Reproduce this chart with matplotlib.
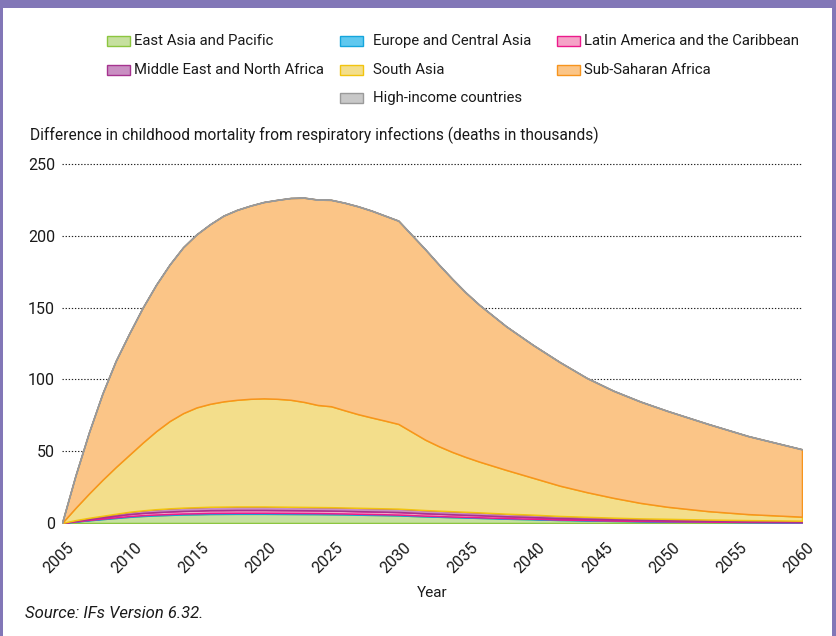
import matplotlib
matplotlib.use("Agg")
import matplotlib.pyplot as plt
import matplotlib.transforms as mtransforms
from matplotlib.patches import Rectangle
import numpy as np

plt.rcParams['font.family'] = ['Roboto', 'DejaVu Sans']

years = [2005, 2006, 2007, 2008, 2009, 2010, 2011, 2012, 2013, 2014, 2015, 2016, 2017, 2018,
         2019, 2020, 2021, 2022, 2023, 2024, 2025, 2026, 2027, 2028, 2029, 2030, 2031, 2032,
         2033, 2034, 2035, 2036, 2038, 2040, 2042, 2044, 2046, 2048, 2050, 2053, 2056, 2060]

east_asia = [0, 1.0, 1.9, 2.7, 3.5, 4.3, 4.9, 5.3, 5.65, 5.95, 6.1, 6.3, 6.35, 6.4,
             6.4, 6.4, 6.35, 6.3, 6.25, 6.2, 6.1, 6.0, 5.8, 5.65, 5.5, 5.3, 4.95, 4.6,
             4.35, 4.05, 3.8, 3.55, 3.0, 2.6, 2.1, 1.8, 1.45, 1.2, 1.0, 0.8, 0.6, 0.4]
europe = [0, 0.15, 0.25, 0.35, 0.45, 0.5, 0.55, 0.6, 0.6, 0.65, 0.65, 0.7, 0.7, 0.7,
          0.7, 0.7, 0.7, 0.7, 0.7, 0.68, 0.65, 0.63, 0.6, 0.58, 0.57, 0.55, 0.52, 0.5,
          0.48, 0.47, 0.45, 0.43, 0.4, 0.35, 0.3, 0.27, 0.24, 0.22, 0.2, 0.17, 0.15, 0.12]
latin_america = [0, 0.4, 0.7, 0.95, 1.2, 1.45, 1.6, 1.7, 1.8, 1.85, 1.9, 1.95, 1.95, 2.0,
                 2.0, 2.0, 1.97, 1.95, 1.93, 1.9, 1.9, 1.87, 1.85, 1.83, 1.82, 1.8, 1.75, 1.7,
                 1.64, 1.58, 1.5, 1.45, 1.3, 1.2, 1.05, 0.95, 0.85, 0.75, 0.7, 0.6, 0.52, 0.45]
mena = [0, 0.45, 0.75, 1.0, 1.25, 1.55, 1.75, 2.0, 2.15, 2.25, 2.35, 2.35, 2.4, 2.4,
        2.4, 2.4, 2.38, 2.35, 2.32, 2.32, 2.35, 2.3, 2.35, 2.34, 2.31, 2.35, 2.28, 2.2,
        2.13, 2.1, 2.05, 1.97, 1.8, 1.65, 1.45, 1.28, 1.16, 1.03, 1.0, 0.83, 0.73, 0.63]
south_asia = [0, 8.5, 16.9, 25.0, 32.6, 39.7, 47.2, 54.4, 60.8, 65.8, 69.5, 71.7, 73.3, 74.3,
              75.0, 75.3, 75.1, 74.5, 73.1, 71.1, 70.3, 67.7, 65.2, 63.1, 61.1, 59.0, 54.0, 49.0,
              44.9, 41.3, 38.2, 35.4, 30.5, 25.7, 21.1, 17.2, 13.8, 10.8, 8.4, 5.9, 4.2, 2.8]
sub_saharan = [0, 22.5, 42.5, 60, 74, 84.5, 94, 102, 109, 115.5, 120.5, 125, 129.3, 132.2,
               134.5, 136.7, 138.5, 140.5, 142.2, 143, 143.7, 144.5, 144.7, 144, 142.7, 141.5, 137, 132.5,
               126.5, 120.5, 114.5, 109.2, 100, 92.5, 86, 79.5, 74.5, 70.5, 66.7, 60.7, 54.3, 46.9]
high_income = [0, 0.1, 0.1, 0.1, 0.1, 0.1, 0.1, 0.1, 0.1, 0.1, 0.1, 0.1, 0.1, 0.1,
               0.1, 0.1, 0.1, 0.1, 0.1, 0.1, 0.1, 0.1, 0.1, 0.1, 0.1, 0.1, 0.1, 0.1,
               0.1, 0.1, 0.1, 0.1, 0.1, 0.1, 0.1, 0.1, 0.1, 0.1, 0.1, 0.1, 0.1, 0.1]

series_names = ["East Asia and Pacific", "Europe and Central Asia", "Latin America and the Caribbean",
                "Middle East and North Africa", "South Asia", "Sub-Saharan Africa", "High-income countries"]
series_values = [east_asia, europe, latin_america, mena, south_asia, sub_saharan, high_income]
fill_colors = ["#c6e09f", "#5fc8ef", "#f5a3c7", "#c98fc2", "#f3de8b", "#fbc587", "#c8c8c8"]
edge_colors = ["#8cc63f", "#14a5dc", "#ec1a8c", "#a6338f", "#f2c40e", "#f7941d", "#9a9a9a"]

x_ticks = list(range(2005, 2061, 5))
y_ticks = [0, 50, 100, 150, 200, 250]

W, H = 837, 636
fig = plt.figure(figsize=(W / 100, H / 100), dpi=100)

px = 359 / 250.0
ytop = 251
ax = fig.add_axes([62 / W, 1 - 523 / H, 740 / W, ytop * px / H])

yrs = np.array(years, dtype=float)
lower = np.zeros(len(years))
for name, vals, fc, ec in zip(series_names, series_values, fill_colors, edge_colors):
    upper = lower + np.array(vals, dtype=float)
    ax.fill_between(yrs, lower, upper, facecolor=fc, edgecolor=ec, linewidth=1.1, zorder=3)
    lower = upper

ax.set_xlim(2005, 2060)
ax.set_ylim(0, ytop)
ax.set_yticks(y_ticks)
ax.set_yticklabels([str(v) for v in y_ticks])
ax.set_xticks(x_ticks)
ax.set_xticklabels([str(v) for v in x_ticks])
for s in ax.spines.values():
    s.set_visible(False)
ax.yaxis.grid(True, color='#222222', linestyle=(0, (1.2, 1.6)), linewidth=0.8, zorder=1)
ax.set_axisbelow(True)
ax.tick_params(axis='both', length=0, labelsize=11.5, colors='#1a1a1a')
ax.tick_params(axis='y', pad=5)
ax.tick_params(axis='x', pad=0)

offset = mtransforms.ScaledTranslation(10 / 100, -22 / 100, fig.dpi_scale_trans)
for lab in ax.get_xticklabels():
    lab.set_rotation(45)
    lab.set_ha('right')
    lab.set_va('center')
    lab.set_rotation_mode('anchor')
    lab.set_transform(lab.get_transform() + offset)

# titles / texts
fig.text(30 / W, 1 - 135 / H, "Difference in childhood mortality from respiratory infections (deaths in thousands)",
         fontsize=11.2, color='#1a1a1a', ha='left', va='center')
fig.text(432 / W, 1 - 593 / H, "Year", fontsize=11, color='#1a1a1a', ha='center', va='center')
fig.text(25 / W, 1 - 614 / H, "Source: IFs Version 6.32.", fontsize=12, style='italic',
         color='#1a1a1a', ha='left', va='center')

# legend (manual placement)
leg_pos = [(107, 41), (340, 41), (557, 41), (107, 70), (340, 70), (557, 70), (340, 98)]
for (lx, ly), name, fc, ec in zip(leg_pos, series_names, fill_colors, edge_colors):
    fig.patches.append(Rectangle((lx / W, 1 - (ly + 5) / H), 23 / W, 10 / H, transform=fig.transFigure,
                                 facecolor=fc, edgecolor=ec, linewidth=1.0))
    tx = lx + 27 if lx != 340 else lx + 33
    fig.text(tx / W, 1 - ly / H, name, fontsize=10.7, color='#1a1a1a', ha='left', va='center')

# purple frame
purple = '#8277b7'
fig.patches.append(Rectangle((0, 1 - 8 / H), 1, 8 / H, transform=fig.transFigure,
                             facecolor=purple, edgecolor='none'))
fig.patches.append(Rectangle((0, 0), 3.5 / W, 1, transform=fig.transFigure,
                             facecolor=purple, edgecolor='none'))
fig.patches.append(Rectangle((832 / W, 0), 4 / W, 1, transform=fig.transFigure,
                             facecolor=purple, edgecolor='none'))

fig.savefig("out.png", dpi=100)
